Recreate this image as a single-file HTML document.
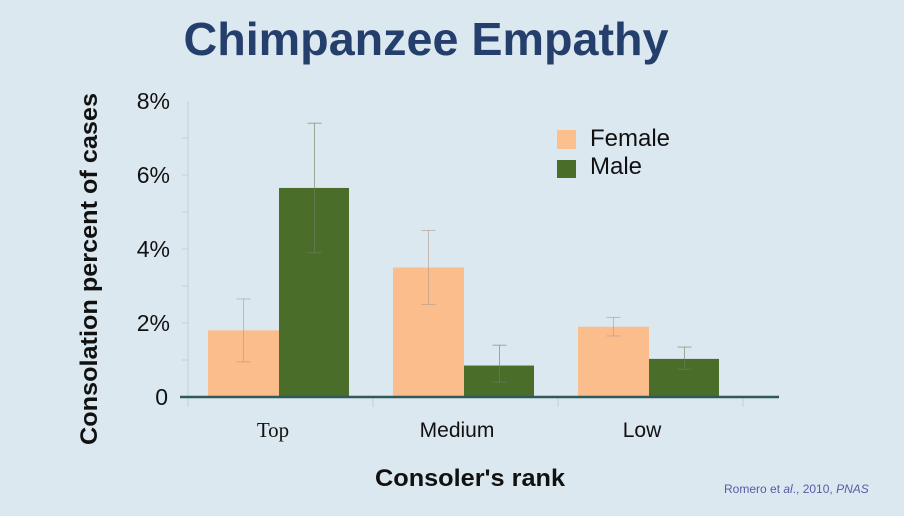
<!DOCTYPE html>
<html><head><meta charset="utf-8"><style>
body{margin:0;width:904px;height:511px;background:#dce8f0;overflow:hidden;font-family:"Liberation Sans",sans-serif}
</style></head><body>
<svg width="904" height="511">
<rect width="904" height="511" fill="#dce8f0"/>
<text x="426" y="55" text-anchor="middle" font-size="46" font-weight="bold" fill="#243f6b" textLength="485" lengthAdjust="spacingAndGlyphs">Chimpanzee Empathy</text>
<g id="plot"></g>
<text transform="translate(97,269) rotate(-90)" text-anchor="middle" font-size="24" font-weight="bold" fill="#111" textLength="352" lengthAdjust="spacingAndGlyphs">Consolation percent of cases</text>
<text x="470" y="486" text-anchor="middle" font-size="24" font-weight="bold" fill="#111" textLength="190" lengthAdjust="spacingAndGlyphs">Consoler's rank</text>
<rect x="557" y="130" width="19" height="19" fill="#fcc08e"/>
<text x="590" y="146" font-size="24" fill="#111">Female</text>
<rect x="557" y="160" width="19" height="18" fill="#4a6e2a"/>
<text x="590" y="174" font-size="24" fill="#111">Male</text>
<text x="724" y="493" font-size="12" fill="#5a5aa8">Romero et <tspan font-style="italic">al</tspan>., 2010, <tspan font-style="italic">PNAS</tspan></text>
</svg>
<script>
const categories=["Top","Medium","Low"];
const femaleValues=[1.8,3.5,1.9];
const maleValues=[5.65,0.85,1.03];
const femaleErrLow=[0.95,2.5,1.65];
const femaleErrHigh=[2.65,4.5,2.15];
const maleErrLow=[3.9,0.4,0.75];
const maleErrHigh=[7.4,1.4,1.35];
const yTicks=[0,2,4,6,8];
const yTickLabels=["0","2%","4%","6%","8%"];
const NS="http://www.w3.org/2000/svg";
const g=document.getElementById('plot');
const x0=188,groupW=185,y0=397,pxPer=37,barW=71;
const y=v=>y0-v*pxPer;
function mk(tag,attrs){const e=document.createElementNS(NS,tag);for(const k in attrs)e.setAttribute(k,attrs[k]);g.appendChild(e);return e;}
let e=mk('line',{x1:x0,y1:y(8),x2:x0,y2:400,stroke:'#c3ced6','stroke-width':1});


for(let v=1;v<8;v++){e=mk('line',{x1:x0-6,y1:y(v),x2:x0,y2:y(v),stroke:'#c3ced6'});

}
yTicks.forEach((t,i)=>{e=mk('text',{x:t===0?168:170,y:y(t)+8,'text-anchor':'end','font-size':23,fill:'#111'});e.textContent=yTickLabels[i];

});
for(let i=0;i<=categories.length;i++){e=mk('line',{x1:x0+i*groupW,y1:y0,x2:x0+i*groupW,y2:y0+10,stroke:'#c3ced6'});

}
function errBar(cx,lo,hi,col){[[cx,y(lo),cx,y(hi)],[cx-7,y(lo),cx+7,y(lo)],[cx-7,y(hi),cx+7,y(hi)]].forEach(c=>{e=mk('line',{x1:c[0],y1:c[1],x2:c[2],y2:c[3],stroke:col,'stroke-width':1,'stroke-opacity':0.6});

});}
categories.forEach((c,i)=>{
const gx=x0+i*groupW+20;
e=mk('rect',{x:gx,y:y(femaleValues[i]),width:barW,height:femaleValues[i]*pxPer,fill:'#fcbd8c'});


e=mk('rect',{x:gx+barW,y:y(maleValues[i]),width:barW-1,height:maleValues[i]*pxPer,fill:'#4a6e2a'});


errBar(gx+barW/2,femaleErrLow[i],femaleErrHigh[i],'#b09a88');
errBar(gx+barW*1.5,maleErrLow[i],maleErrHigh[i],'#6a7f60');
e=mk('text',{x:gx+barW-7+(i===0?0:0),y:437,'text-anchor':'middle','font-size':21,fill:'#111'});
if(i===0){e.setAttribute('font-family','Liberation Serif');e.setAttribute('x',gx+65);}
e.textContent=c;


});
e=mk('line',{x1:180,y1:y0,x2:779,y2:y0,stroke:'#2f5a5a','stroke-width':2.5});


</script>
</body></html>
